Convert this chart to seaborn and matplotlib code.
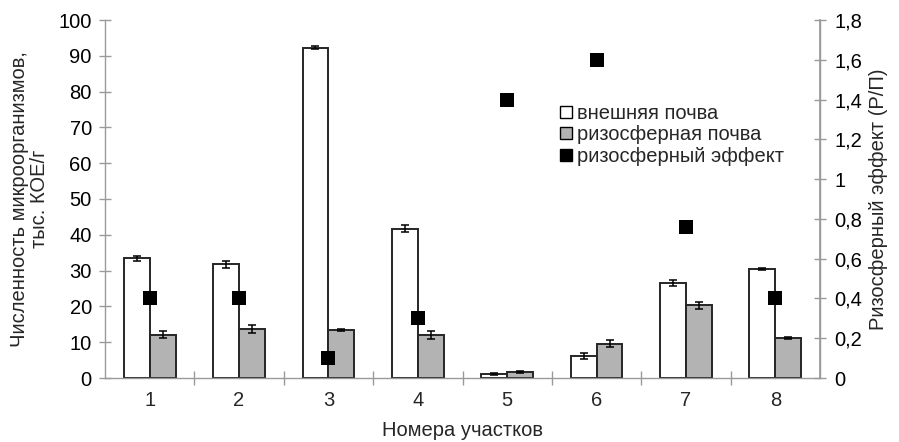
import matplotlib
matplotlib.use("Agg")
import matplotlib.pyplot as plt
from matplotlib.lines import Line2D
from matplotlib.ticker import FuncFormatter, MultipleLocator, FixedLocator, NullFormatter
import seaborn as sns
import pandas as pd
import numpy as np

sites = ["1", "2", "3", "4", "5", "6", "7", "8"]
outer_soil = [33.4, 31.8, 92.2, 41.7, 1.2, 6.2, 26.6, 30.4]
outer_err = [0.8, 1.0, 0.4, 1.0, 0.3, 0.8, 0.8, 0.2]
rhizo_soil = [12.1, 13.7, 13.4, 12.0, 1.7, 9.6, 20.3, 11.2]
rhizo_err = [1.0, 1.2, 0.3, 1.2, 0.3, 0.9, 0.9, 0.2]
rhizo_effect = [0.4, 0.4, 0.1, 0.3, 1.4, 1.6, 0.76, 0.4]

lbl_outer = "внешняя почва"
lbl_rhizo = "ризосферная почва"
lbl_effect = "ризосферный эффект"

sns.set_theme(style="white")
plt.rcParams["font.family"] = ["Liberation Sans", "DejaVu Sans"]

df = pd.DataFrame({
    "site": sites * 2,
    "value": outer_soil + rhizo_soil,
    "err": outer_err + rhizo_err,
    "soil": [lbl_outer] * len(sites) + [lbl_rhizo] * len(sites),
})

fig = plt.figure(figsize=(8.99, 4.42), dpi=100)
ax = fig.add_axes([105 / 899, 1 - 378 / 442, 715 / 899, 358 / 442])

edge = "#262626"
sns.barplot(data=df, x="site", y="value", hue="soil",
            palette={lbl_outer: "white", lbl_rhizo: "#b3b3b3"},
            edgecolor=edge, linewidth=1.4, width=0.58, gap=0,
            errorbar=None, legend=False, ax=ax, zorder=2)

# error bars at the bar centres
bars = ax.patches[:2 * len(sites)]
for p, (val, err) in zip(bars, zip(df["value"], df["err"])):
    cx = p.get_x() + p.get_width() / 2
    ax.errorbar(cx, val, yerr=err, fmt="none", ecolor="black",
                elinewidth=1.1, capsize=3, capthick=1.1, zorder=3)

ax.set_ylim(0, 100)
ax.set_xlim(-0.5, len(sites) - 0.5)
ax.yaxis.set_major_locator(MultipleLocator(10))

gray = "#9a9a9a"
ax.spines["top"].set_visible(False)
for side in ["left", "bottom", "right"]:
    ax.spines[side].set_color(gray)
    ax.spines[side].set_linewidth(1.0)

fs_tick = 14.5
fs_label = 14.5

ax.tick_params(axis="y", direction="inout", length=9, width=1.0, color=gray,
               labelsize=fs_tick, labelcolor="black", pad=5, left=True)
ax.tick_params(axis="x", which="major", length=0, labelsize=fs_tick, pad=9)
ax.xaxis.set_minor_locator(FixedLocator(np.arange(0.5, len(sites) - 0.5, 1.0)))
ax.xaxis.set_minor_formatter(NullFormatter())
ax.tick_params(axis="x", which="minor", direction="inout", length=10, width=1.0,
               color=gray, bottom=True)

ax.set_xlabel("Номера участков", fontsize=fs_label, labelpad=8)
ax.set_ylabel("Численность микроорганизмов,\nтыс. КОЕ/г", fontsize=fs_label,
              labelpad=7, linespacing=1.05)

ax2 = ax.twinx()
sns.scatterplot(x=np.arange(len(sites)), y=rhizo_effect, marker="s", s=100,
                color="black", edgecolor="black", linewidth=0, ax=ax2, zorder=4)
ax2.set_ylim(0, 1.8)
ax2.yaxis.set_major_locator(MultipleLocator(0.2))
ax2.yaxis.set_major_formatter(FuncFormatter(lambda v, _: f"{round(v, 1):g}".replace(".", ",")))
for side in ["top", "left", "bottom"]:
    ax2.spines[side].set_visible(False)
ax2.spines["right"].set_color(gray)
ax2.tick_params(axis="y", direction="inout", length=9, width=1.0, color=gray,
                labelsize=fs_tick, labelcolor="black", pad=6, right=True)
ax2.set_ylabel("Ризосферный эффект (Р/П)", fontsize=fs_label, labelpad=5)
ax2.grid(False)
ax.grid(False)

handles = [
    Line2D([], [], marker="s", linestyle="none", markersize=8,
           markerfacecolor="white", markeredgecolor="black", markeredgewidth=1.0),
    Line2D([], [], marker="s", linestyle="none", markersize=8,
           markerfacecolor="#b3b3b3", markeredgecolor="black", markeredgewidth=1.0),
    Line2D([], [], marker="s", linestyle="none", markersize=8,
           markerfacecolor="black", markeredgecolor="black"),
]
fig.legend(handles, [lbl_outer, lbl_rhizo, lbl_effect], loc="upper left",
           bbox_to_anchor=(550 / 899, 1 - 94 / 442), frameon=False, fontsize=14.5,
           handlelength=0.6, handletextpad=0.25, labelspacing=0.12, borderpad=0)

fig.savefig("out.png", dpi=100)
